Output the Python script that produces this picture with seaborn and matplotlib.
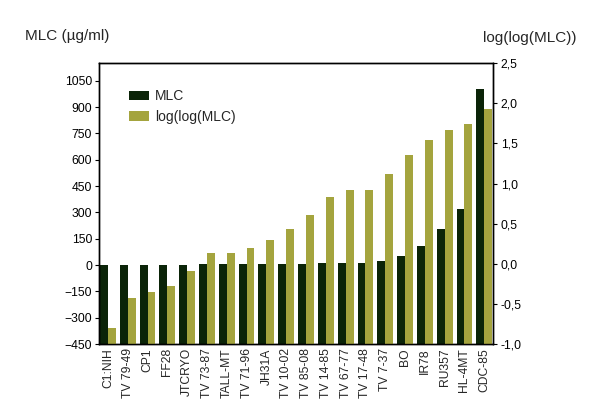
import matplotlib
matplotlib.use("Agg")
import matplotlib.pyplot as plt
import seaborn as sns
import pandas as pd
from matplotlib.ticker import FixedLocator, FuncFormatter
from matplotlib.patches import Patch

categories = ["C1:NIH", "TV 79-49", "CP1", "FF28", "JTCRYO", "TV 73-87", "TALL-MT",
              "TV 71-96", "JH31A", "TV 10-02", "TV 85-08", "TV 14-85", "TV 67-77",
              "TV 17-48", "TV 7-37", "BO", "IR78", "RU357", "HL-4MT", "CDC-85"]
mlc = [1.6, 1.9, 2.0, 2.1, 2.5, 4, 4, 4, 4, 4.7, 6.3, 12, 12, 12, 24, 50, 106, 203, 320, 1003]
loglog = [-0.80, -0.43, -0.35, -0.28, -0.09, 0.13, 0.13, 0.20, 0.30, 0.43, 0.61,
          0.83, 0.92, 0.92, 1.12, 1.35, 1.54, 1.67, 1.74, 1.93]
series_names = ["MLC", "log(log(MLC))"]
legend_labels = ["MLC", "log(log(MLC)"]
left_ticks = [-450, -300, -150, 0, 150, 300, 450, 600, 750, 900, 1050]
right_ticks = [-1.0, -0.5, 0.0, 0.5, 1.0, 1.5, 2.0, 2.5]

dark = "#0b2408"
olive = "#a4a43e"

sns.set_style("white")
plt.rcParams["font.family"] = ["Liberation Sans", "DejaVu Sans"]

LEFT_MIN, LEFT_MAX = -450, 1150
RIGHT_MIN, RIGHT_MAX = -1.0, 2.5

df1 = pd.DataFrame({"cat": categories, "val": [v - LEFT_MIN for v in mlc],
                    "series": series_names[0]})
df2 = pd.DataFrame({"cat": categories, "val": [v - RIGHT_MIN for v in loglog],
                    "series": series_names[1]})

fig = plt.figure(figsize=(6.0, 4.16), dpi=100)
ax = fig.add_axes([0.165, 0.173, 0.656, 0.675])
ax2 = ax.twinx()

pal = {series_names[0]: dark, series_names[1]: olive}
sns.barplot(data=df1, x="cat", y="val", hue="series", hue_order=series_names,
            order=categories, palette=pal, ax=ax, width=0.8, dodge=True,
            bottom=LEFT_MIN, linewidth=0, saturation=1, legend=False)
sns.barplot(data=df2, x="cat", y="val", hue="series", hue_order=series_names,
            order=categories, palette=pal, ax=ax2, width=0.8, dodge=True,
            bottom=RIGHT_MIN, linewidth=0, saturation=1, legend=False)

ax.set_xlim(-0.45, 19.42)
ax.set_ylim(LEFT_MIN, LEFT_MAX)
ax2.set_ylim(RIGHT_MIN, RIGHT_MAX)

ax.yaxis.set_major_locator(FixedLocator(left_ticks))
ax2.yaxis.set_major_locator(FixedLocator(right_ticks))
ax2.yaxis.set_major_formatter(FuncFormatter(lambda v, p: f"{v:.1f}".replace(".", ",")))

for a in (ax, ax2):
    for s in a.spines.values():
        s.set_color("black")
        s.set_linewidth(1.0)
    a.set_xlabel("")
    a.set_ylabel("")

ax.tick_params(axis="y", which="major", direction="out", length=3, width=0.8,
               labelsize=8.7, left=True, colors="black", pad=2)
ax2.tick_params(axis="y", which="major", direction="out", length=3, width=0.8,
                labelsize=8.7, right=True, colors="black", pad=3)
ax.tick_params(axis="x", which="major", length=0, labelsize=8.7, rotation=90, pad=3)

fig.text(0.042, 0.913, "MLC (\u00b5g/ml)", fontsize=11, ha="left", va="center")
fig.text(0.805, 0.908, "log(log(MLC))", fontsize=11, ha="left", va="center")

handles = [Patch(facecolor=dark, edgecolor="none"), Patch(facecolor=olive, edgecolor="none")]
ax2.legend(handles, legend_labels, loc="upper left", bbox_to_anchor=(0.077, 0.908),
           frameon=False, fontsize=10, handlelength=1.45, handleheight=0.65,
           handletextpad=0.4, labelspacing=0.5, borderaxespad=0, borderpad=0)

fig.savefig("out.png", dpi=100, facecolor="white")
